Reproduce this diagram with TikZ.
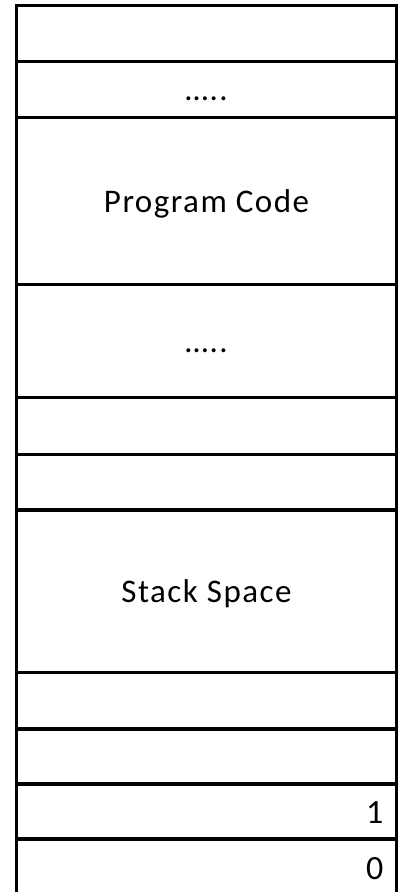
\documentclass[tikz,border=0pt]{standalone}
\usepackage{fontspec}
\setmainfont{Carlito}
\newfontfamily\cellfont{Carlito}[LetterSpace=4.5]
\begin{document}
\begin{tikzpicture}[x=1pt,y=-1pt,
  cell/.style={draw=black, line width=3.2pt, minimum width=380.4pt, inner sep=0pt, outer sep=0pt,
    font=\cellfont\fontsize{33}{39}\selectfont, text height=22.5pt, text depth=0pt},
  digit/.style={inner sep=0pt, anchor=base east, font=\fontsize{34}{40}\selectfont}]
\useasboundingbox (0,0) rectangle (402,892);
\node[cell, minimum height=56pt]   (c1)  at (206.5,33.5)   {};
\node[cell, minimum height=56.2pt] (c2)  at (206.5,89.6)   {\char"2026..};
\node[cell, minimum height=166.8pt](c3)  at (206.5,201.1)  {Program Code};
\node[cell, minimum height=113.2pt](c4)  at (206.5,341.1)  {\char"2026..};
\node[cell, minimum height=56.6pt] (c5)  at (206.5,426)    {};
\node[cell, minimum height=55.7pt] (c6)  at (206.5,482.15) {};
\node[cell, minimum height=162.7pt](c7)  at (206.5,591.35) {Stack Space};
\node[cell, minimum height=56.3pt] (c8)  at (206.5,700.85) {};
\node[cell, minimum height=55pt]   (c9)  at (206.5,756.5)  {};
\node[cell, minimum height=55pt]   (c10) at (206.5,811.5)  {};
\node[cell, minimum height=55pt]   (c11) at (206.5,866.5)  {};
\node[digit] (d1) at (383.5,823.3) {1};
\node[digit] (d0) at (383.5,879.5) {0};
\end{tikzpicture}
\end{document}
